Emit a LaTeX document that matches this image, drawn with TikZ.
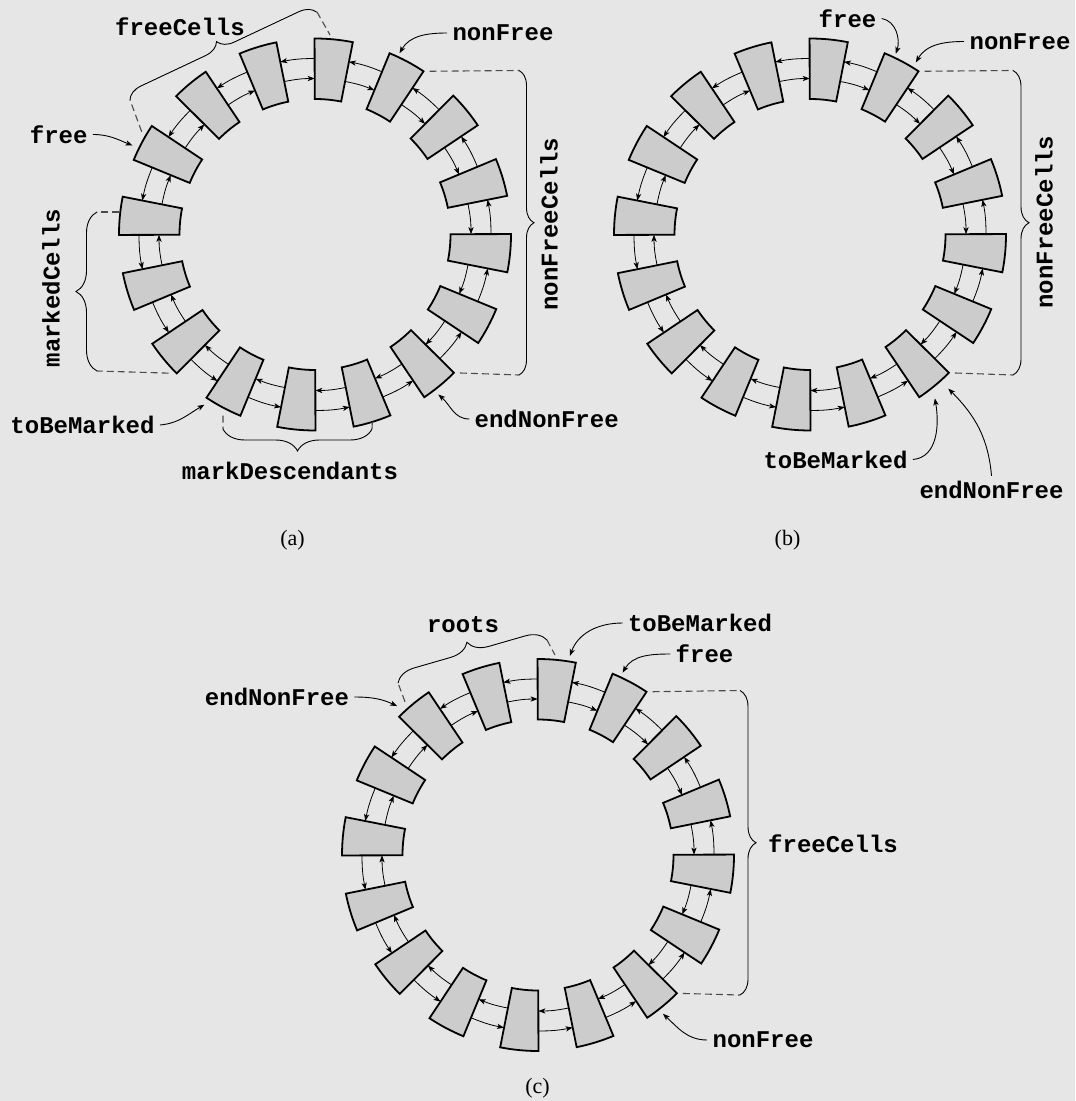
\documentclass[tikz,border=0pt]{standalone}
\usepackage{fontspec}
\setmainfont{Liberation Serif}
\setmonofont{Liberation Mono}
\usetikzlibrary{calc,arrows.meta,decorations.pathreplacing}
\pgfdeclarelayer{background}
\pgfsetlayers{background,main}

\definecolor{paper}{RGB}{230,230,230}
\definecolor{cellgray}{RGB}{204,204,204}
\definecolor{dashgray}{RGB}{75,75,75}

\tikzset{
  cell/.style={draw=black, fill=cellgray, line width=0.9pt},
  link/.style={-{Stealth[length=3.5pt,width=2.6pt,inset=0.9pt]}, line width=0.4pt},
  pointer/.style={-{Stealth[length=3.5pt,width=2.6pt,inset=0.9pt]}, line width=0.45pt},
  guide/.style={dashgray, line width=0.55pt, dash pattern=on 3.5pt off 2pt},
  curly/.style={decorate, decoration={brace, amplitude=#1}, line width=0.45pt},
  lbl/.style={font=\fontsize{12}{14}\selectfont\ttfamily\bfseries, inner sep=2.5pt},
  caption/.style={font=\fontsize{11}{13}\selectfont}
}

\begin{document}
\begin{tikzpicture}[x=0.5pt,y=0.5pt]

\begin{pgfonlayer}{background}
\fill[paper] (0,0) rectangle (1075,-1101);
\end{pgfonlayer}
\useasboundingbox (0,0) rectangle (1075,-1101);

% ring centres
\coordinate (a) at (315,-234.5);
\coordinate (b) at (810,-234.5);
\coordinate (c) at (538,-855);

% cells and links
\foreach \rg in {a,b,c}{
  \begin{scope}[shift={(\rg)}]
  \foreach \kk in {0,...,15}{
    \pgfmathsetmacro{\cellang}{84.5+22.5*\kk}
    \draw[cell] (\cellang-5.625:135.5) arc[start angle=\cellang-5.625, end angle=\cellang+5.625, radius=135.5]
      -- (\cellang+5.625:196) arc[start angle=\cellang+5.625, end angle=\cellang-5.625, radius=196] -- cycle;
    \coordinate (\rg-\kk-oh) at (\cellang+5.625:176);
    \coordinate (\rg-\kk-ol) at (\cellang-5.625:176);
    \coordinate (\rg-\kk-ih) at (\cellang+5.625:156);
    \coordinate (\rg-\kk-il) at (\cellang-5.625:156);
    \coordinate (\rg-\kk-ch) at (\cellang+5.625:196);
    \coordinate (\rg-\kk-cl) at (\cellang-5.625:196);
    \coordinate (\rg-\kk-om) at (\cellang:196);
  }
  \end{scope}
  \foreach \kk [evaluate=\kk as \nx using {int(mod(\kk+1,16))}] in {0,...,15}{
    \draw[link] (\rg-\kk-oh) to[bend right=5.625] (\rg-\nx-ol);
    \draw[link] (\rg-\nx-il) to[bend left=5.625] (\rg-\kk-ih);
  }
}

% (a)
\node[lbl] (a-freeCells) at (180,-26.7) {freeCells};
\node[lbl] (a-nonFree) at (503,-33) {nonFree};
\node[lbl] (a-free) at (58.7,-134.5) {free};
\node[lbl, rotate=90] (a-markedCells) at (51,-288) {markedCells};
\node[lbl, rotate=90] (a-nonFreeCells) at (549,-224) {nonFreeCells};
\node[lbl] (a-toBeMarked) at (82.5,-425) {toBeMarked};
\node[lbl] (a-endNonFree) at (546.7,-419) {endNonFree};
\node[lbl] (a-markDescendants) at (290,-470.5) {markDescendants};
\node[caption] (a-caption) at (292.5,-540) {(a)};

\draw[pointer] (a-nonFree.west) to[out=180,in=60] ($(a)+(65:200)$);
\draw[pointer] (a-free.east) to[out=0,in=158] ($(a)+(154:203)$);
\draw[pointer] (a-toBeMarked.east) to[out=5,in=210] ($(a)+(237:203)$);
\draw[pointer] (a-endNonFree.west) to[out=180,in=-40] ($(a)+(307.6:202)$);

\coordinate (a-fc-s) at (141.7,-131.7);
\coordinate (a-fc-l) at (130,-100);
\coordinate (a-fc-r) at (317,-12);
\coordinate (a-fc-e) at (330,-35);
\draw[curly=8pt] (a-fc-l) -- (a-fc-r);
\draw[guide] (a-fc-s) -- (a-fc-l);
\draw[guide] (a-fc-r) -- (a-fc-e);

\coordinate (a-nfc-t) at (519,-70.5);
\coordinate (a-nfc-b) at (519,-375);
\draw[curly=7.5pt] (a-nfc-t) -- (a-nfc-b);
\draw[guide, shorten <=3pt] (a-15-cl) -- (a-nfc-t);
\draw[guide, shorten <=3pt] (a-10-ch) -- (a-nfc-b);

\coordinate (a-mc-s) at (119,-212);
\coordinate (a-mc-t) at (97,-212);
\coordinate (a-mc-b) at (97,-371);
\draw[curly=10.5pt] (a-mc-b) -- (a-mc-t);
\draw[guide] (a-mc-s) -- (a-mc-t);
\draw[guide, shorten <=4pt] (a-6-ch) -- (a-mc-b);

\coordinate (a-md-l) at (223,-429);
\coordinate (a-md-r) at (372,-429);
\draw[curly=11pt] (a-md-r) -- (a-md-l);
\draw[guide, shorten <=4pt] (a-7-om) -- (a-md-l);
\draw[guide] (a-9-om) -- (a-md-r);

% (b)
\node[lbl] (b-free) at (847.5,-18.5) {free};
\node[lbl] (b-nonFree) at (1020,-41.5) {nonFree};
\node[lbl, rotate=90] (b-nonFreeCells) at (1044,-222) {nonFreeCells};
\node[lbl] (b-toBeMarked) at (835.5,-459.5) {toBeMarked};
\node[lbl] (b-endNonFree) at (991.5,-490) {endNonFree};
\node[caption] (b-caption) at (787.5,-540) {(b)};

\draw[pointer] (b-free.east) to[out=-10,in=72] ($(b)+(64.6:200)$);
\draw[pointer] (b-nonFree.west) to[out=180,in=60] ($(b)+(58.4:202)$);
\draw[pointer] (b-toBeMarked.east) to[out=5,in=-80] ($(b)+(-52.7:206)$);
\draw[pointer] (b-endNonFree.north) to[out=95,in=-45] ($(b)+(-48.1:207)$);

\coordinate (b-nfc-t) at (1013,-70.5);
\coordinate (b-nfc-b) at (1013,-375);
\draw[curly=8pt] (b-nfc-t) -- (b-nfc-b);
\draw[guide, shorten <=3pt] (b-15-cl) -- (b-nfc-t);
\draw[guide, shorten <=3pt] (b-10-ch) -- (b-nfc-b);

% (c)
\node[lbl] (c-roots) at (463,-624.5) {roots};
\node[lbl] (c-toBeMarked) at (700,-623) {toBeMarked};
\node[lbl] (c-free) at (704.5,-654) {free};
\node[lbl] (c-endNonFree) at (277,-697) {endNonFree};
\node[lbl] (c-freeCells) at (833,-844) {freeCells};
\node[lbl] (c-nonFree) at (763,-1040) {nonFree};
\node[caption] (c-caption) at (537.5,-1088) {(c)};

\draw[pointer] (c-toBeMarked.west) to[out=180,in=70] ($(c)+(80.9:201.6)$);
\draw[pointer] (c-free.west) to[out=180,in=60] ($(c)+(65.1:201)$);
\draw[pointer] (c-endNonFree.east) to[out=0,in=155] ($(c)+(133.4:205)$);
\draw[pointer] (c-nonFree.west) to[out=180,in=-43] ($(c)+(-51.8:202)$);

\coordinate (c-fc-t) at (740,-690.5);
\coordinate (c-fc-b) at (740,-995);
\draw[curly=8pt] (c-fc-t) -- (c-fc-b);
\draw[guide, shorten <=3pt] (c-15-cl) -- (c-fc-t);
\draw[guide, shorten <=3pt] (c-10-ch) -- (c-fc-b);

\coordinate (c-rt-s) at (405,-701.7);
\coordinate (c-rt-l) at (398,-683);
\coordinate (c-rt-r) at (547,-640);
\coordinate (c-rt-e) at (555,-655);
\draw[curly=10pt] (c-rt-l) -- (c-rt-r);
\draw[guide] (c-rt-s) -- (c-rt-l);
\draw[guide] (c-rt-r) -- (c-rt-e);

\end{tikzpicture}
\end{document}
